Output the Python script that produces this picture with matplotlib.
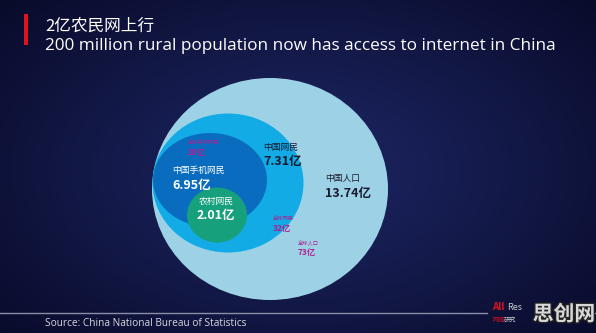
import numpy as np
import matplotlib
matplotlib.use("Agg")
import matplotlib.pyplot as plt
import matplotlib.patheffects as pe
from matplotlib.patches import Ellipse, Rectangle

plt.rcParams['font.family'] = ['Noto Sans CJK SC', 'DejaVu Sans']

# 数据
groups = ["中国人口", "中国网民", "中国手机网民", "农村网民"]
values = ["13.74亿", "7.31亿", "6.95亿", "2.01亿"]
world_labels = ["全球人口", "全球网民", "全球手机网民"]
world_values = ["73亿", "32亿", "20亿"]

title_cn = "2亿农民网上行"
title_en = "200 million rural population now has access to internet in China"
source = "Source: China National Bureau of Statistics"

# 圆的位置 (像素坐标): 中心x, 中心y, 宽, 高
circles = [(270, 189, 236, 222), (228, 183, 151, 139), (210, 180, 114, 94), (217, 215, 60, 55)]
colores = ["#9dd2e6", "#12abe6", "#0a6cbf", "#17a07c"]
text_pos = [(325, 178), (263, 147), (172, 170), (216, 201)]
text_col = ["#1a1a2e", "#1a1a2e", "white", "white"]
text_ha = ["left", "left", "left", "center"]
world_pos = [(298, 243), (273, 219), (188, 143)]

fig = plt.figure(figsize=(5.96, 3.33), dpi=100)
ax = fig.add_axes([0, 0, 1, 1])
ax.set_xlim(0, 596)
ax.set_ylim(333, 0)
ax.axis("off")

# fondo degradado
yy, xx = np.mgrid[0:333, 0:596]
r = np.sqrt(((xx - 300) / 420) ** 2 + ((yy - 170) / 260) ** 2)
r = np.clip(r, 0, 1)
c0 = np.array([0x1e, 0x27, 0x66]) / 255
c1 = np.array([0x08, 0x0a, 0x28]) / 255
img = c0[None, None, :] * (1 - r[..., None]) + c1[None, None, :] * r[..., None]
ax.imshow(img, extent=[0, 596, 333, 0], zorder=0, aspect="auto")

# circulos
for (cx, cy, w, h), col in zip(circles, colores):
    ax.add_patch(Ellipse((cx, cy), w, h, facecolor=col, edgecolor="none", zorder=2))

# etiquetas
for i in range(len(groups)):
    x, y = text_pos[i]
    ax.text(x, y, groups[i], color=text_col[i], fontsize=6.3, ha=text_ha[i], va="center", zorder=5)
    ax.text(x, y + 15, values[i], color=text_col[i], fontsize=9, fontweight="bold",
            ha=text_ha[i], va="center", zorder=5)

for i in range(len(world_labels)):
    x, y = world_pos[i]
    ax.text(x, y, world_labels[i], color="#b0208f", fontsize=3.8, ha="left", va="center", zorder=5)
    ax.text(x, y + 10, world_values[i], color="#b0208f", fontsize=6, fontweight="bold",
            ha="left", va="center", zorder=5)

# titulo
ax.add_patch(Rectangle((24, 14), 4, 31, facecolor="#e0121b", edgecolor="none", zorder=5))
ax.text(45, 26, title_cn, color="white", fontsize=12, ha="left", va="center", zorder=5)
ax.text(45, 46, title_en, color="white", fontsize=12.3, ha="left", va="center",
        family=["Open Sans", "DejaVu Sans"], zorder=5)

# linea inferior y fuente
ax.plot([0, 487], [313, 313], color="#8a8fa8", lw=1, zorder=4)
ax.plot([566, 596], [313, 313], color="#8a8fa8", lw=1, zorder=4)
ax.text(45, 324, source, color="#d8d8e0", fontsize=7.3, ha="left", va="center",
        family=["Open Sans", "DejaVu Sans"], zorder=5)

# logo
ax.text(492, 307, "All", color="#e0121b", fontsize=7, fontweight="bold", ha="left", va="center", zorder=5)
ax.text(507, 307, "Res", color="#c8c8d0", fontsize=6.5, ha="left", va="center", zorder=5)
ax.text(492, 320, "网络", color="#e0121b", fontsize=4.5, ha="left", va="center", zorder=5)
ax.text(504, 320, "研究", color="#c8c8d0", fontsize=4.5, ha="left", va="center", zorder=5)
ax.text(564, 314, "思创网", color="#d8d8d8", fontsize=15, fontweight="bold", ha="center", va="center",
        zorder=6, path_effects=[pe.withStroke(linewidth=2, foreground="#222222")])

fig.savefig("out.png", dpi=100)
